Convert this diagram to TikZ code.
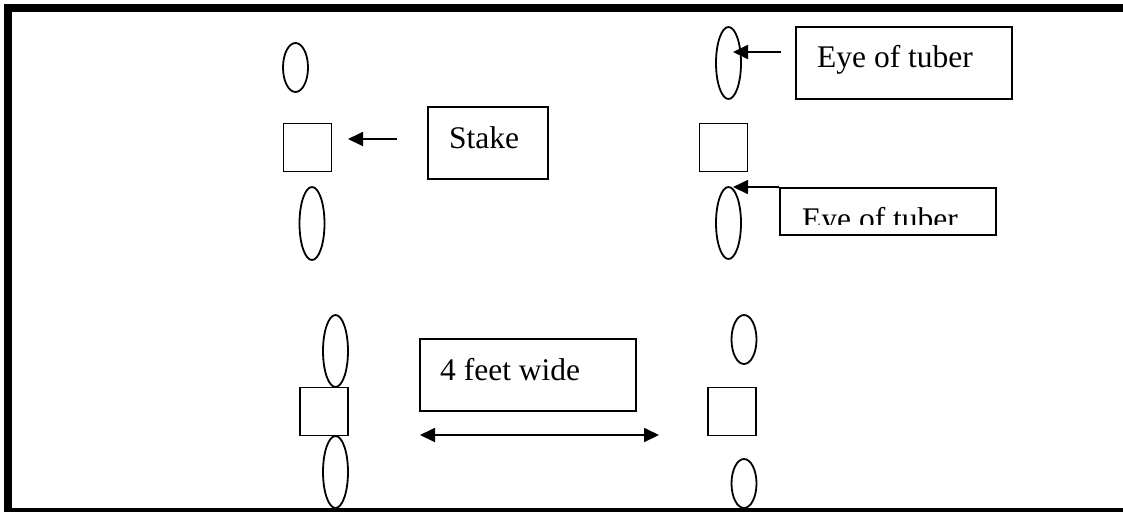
\documentclass[tikz,border=0pt]{standalone}
\usepackage{fontspec}
\setmainfont{Liberation Serif}
\usetikzlibrary{shapes.geometric,arrows.meta}
\begin{document}
\begin{tikzpicture}[x=1pt,y=-1pt,
  thin line/.style={line width=1.8pt},
  eye/.style={ellipse,draw,thin line,inner sep=0pt,minimum width=25pt},
  stakesq/.style={rectangle,draw,thin line,inner sep=0pt,minimum width=48pt,minimum height=48pt},
  labelbox/.style={rectangle,draw,thin line,inner sep=0pt},
  labeltext/.style={anchor=base west,inner sep=0pt,font=\fontsize{31.5}{36}\selectfont},
  arr/.style={thin line,-{Triangle[length=15pt,width=14pt]}},
  darr/.style={thin line,{Triangle[length=15pt,width=14pt]}-{Triangle[length=15pt,width=14pt]}}]
\useasboundingbox (0,0) rectangle (1123,512);
\fill[white] (0,0) rectangle (1123,512);
% frame
\fill[black] (4,4) rectangle (1123,11.5);
\fill[black] (4,4) rectangle (12,512);
\fill[black] (4,508) rectangle (1123,512);
% top-left group
\node[eye,minimum height=49pt] (e1) at (295.5,67.5) {};
\node[stakesq] (s1) at (307.5,147.5) {};
\node[eye,minimum height=73pt] (e2) at (312,223.5) {};
% top-right group
\node[eye,minimum height=72pt] (e3) at (728.5,63) {};
\node[stakesq] (s2) at (723.5,147.5) {};
\node[eye,minimum height=72pt] (e4) at (728.5,223) {};
% bottom-left group
\node[eye,minimum height=72pt] (e5) at (335.5,351) {};
\node[stakesq] (s3) at (324,411.5) {};
\node[eye,minimum height=72pt] (e6) at (335.5,472) {};
% bottom-right group
\node[eye,minimum height=49pt] (e7) at (744,339.5) {};
\node[stakesq] (s4) at (732,411.5) {};
\node[eye,minimum height=49pt] (e8) at (744,483.5) {};
% label boxes
\node[labelbox,minimum width=120pt,minimum height=72pt] (stakebox) at (488,143) {};
\node[labeltext] (staketxt) at (449,148) {Stake};
\node[labelbox,minimum width=216pt,minimum height=72pt] (eyebox1) at (904,63) {};
\node[labeltext] (eyetxt1) at (817,67) {Eye of tuber};
\node[labelbox,minimum width=216pt,minimum height=47pt] (eyebox2) at (888,211.5) {};
\begin{scope}
\clip (781,189) rectangle (995,224.5);
\node[labeltext] (eyetxt2) at (802,229) {Eye of tuber};
\end{scope}
\node[labelbox,minimum width=216pt,minimum height=72pt] (widebox) at (528,375) {};
\node[labeltext] (widetxt) at (440,380) {4 feet wide};
% arrows
\coordinate (a1) at (397,139);
\coordinate (a1t) at (348,139);
\draw[arr] (a1) -- (a1t);
\coordinate (a2) at (781,52);
\coordinate (a2t) at (733,52);
\draw[arr] (a2) -- (a2t);
\coordinate (a3t) at (733,187);
\draw[arr] (eyebox2.north west) -- (a3t);
\coordinate (d1) at (420,435);
\coordinate (d2) at (659,435);
\draw[darr] (d1) -- (d2);
\end{tikzpicture}
\end{document}
